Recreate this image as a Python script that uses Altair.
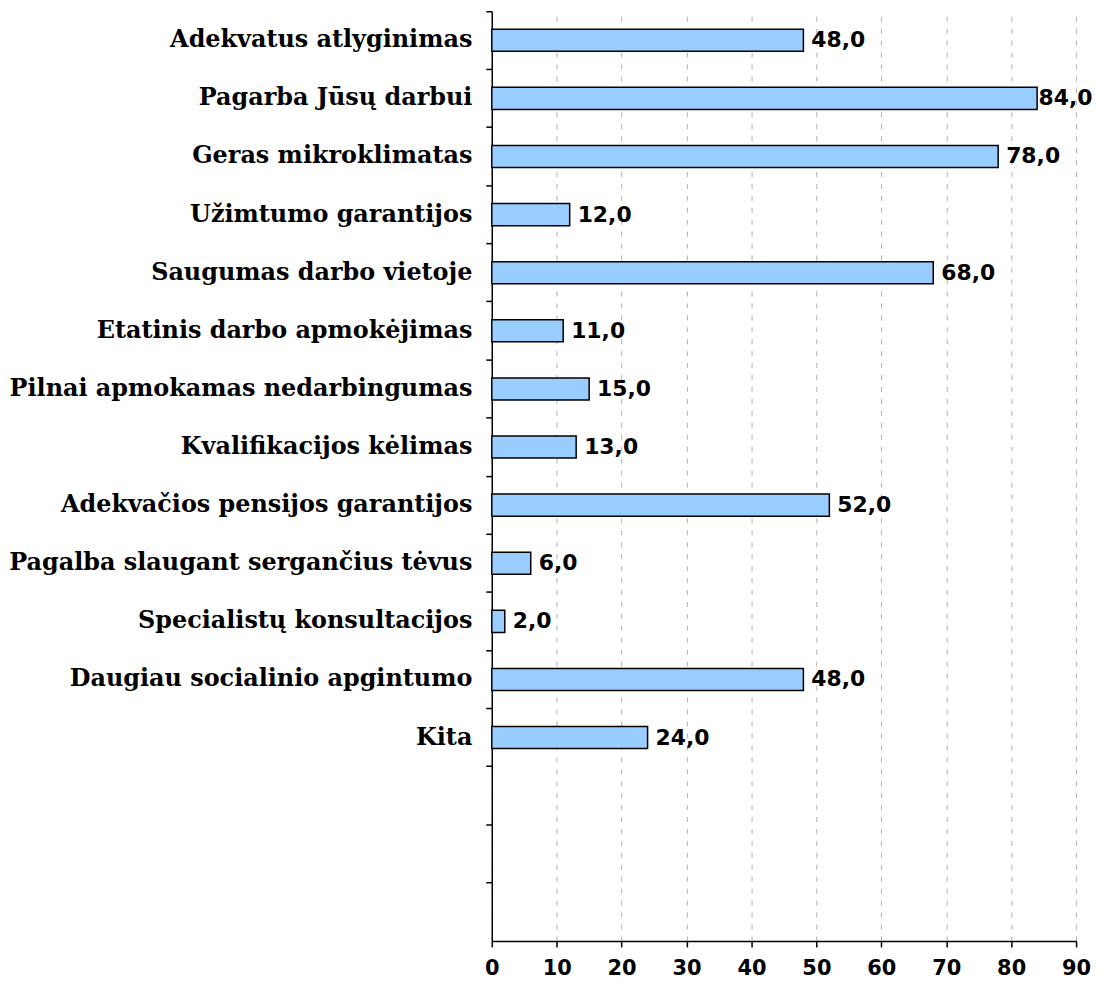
import altair as alt
import pandas as pd

categories = [
    "Adekvatus atlyginimas",
    "Pagarba Jūsų darbui",
    "Geras mikroklimatas",
    "Užimtumo garantijos",
    "Saugumas darbo vietoje",
    "Etatinis darbo apmokėjimas",
    "Pilnai apmokamas nedarbingumas",
    "Kvalifikacijos kėlimas",
    "Adekvačios pensijos garantijos",
    "Pagalba slaugant sergančius tėvus",
    "Specialistų konsultacijos",
    "Daugiau socialinio apgintumo",
    "Kita",
]
values = [48.0, 84.0, 78.0, 12.0, 68.0, 11.0, 15.0, 13.0, 52.0, 6.0, 2.0, 48.0, 24.0]
empty_slots = [" ", "  ", "   "]
x_ticks = [0, 10, 20, 30, 40, 50, 60, 70, 80, 90]

df = pd.DataFrame({
    "cat": categories,
    "val": values,
    "label": [f"{v:.1f}".replace(".", ",") for v in values],
})

domain = categories + empty_slots

y_enc = alt.Y(
    "cat:N",
    scale=alt.Scale(domain=domain, paddingInner=0, paddingOuter=0),
    axis=alt.Axis(
        title=None,
        bandPosition=0,
        labelFont="DejaVu Serif",
        labelFontWeight="bold",
        labelFontSize=24,
        labelColor="black",
        labelPadding=14,
        tickColor="black",
        tickSize=6,
        tickWidth=1.5,
        domainColor="black",
        domainWidth=1.5,
        grid=False,
        labelLimit=700,
    ),
)

x_enc = alt.X(
    "val:Q",
    scale=alt.Scale(domain=[0, 90], nice=False),
    axis=alt.Axis(
        title=None,
        values=x_ticks,
        labelFont="DejaVu Sans",
        labelFontWeight="bold",
        labelFontSize=21,
        labelColor="black",
        labelPadding=11,
        labelFlush=False,
        tickColor="black",
        tickSize=6,
        tickWidth=1.5,
        domainColor="black",
        domainWidth=1.5,
        grid=True,
        gridColor="#b0b0b0",
        gridDash=[5, 7],
        gridWidth=1,
    ),
)

bars = alt.Chart(df).mark_bar(
    height=alt.RelativeBandSize(0.38),
    fill="#99CCFF",
    stroke="black",
    strokeWidth=1.5,
).encode(x=x_enc, y=y_enc)

labels = alt.Chart(df).transform_calculate(
    pos="min(datum.val, 83)"
).mark_text(
    align="left",
    baseline="middle",
    dx=8,
    font="DejaVu Sans",
    fontWeight="bold",
    fontSize=22,
    color="black",
).encode(x="pos:Q", y=alt.Y("cat:N", scale=alt.Scale(domain=domain)), text="label:N")

chart = (
    alt.layer(bars, labels)
    .properties(width=587, height=934, padding={"left": 0, "top": 0, "right": 0, "bottom": 0})
    .configure_view(stroke=None)
)

chart.save("out.html", embed_options={"renderer": "svg", "actions": False})
